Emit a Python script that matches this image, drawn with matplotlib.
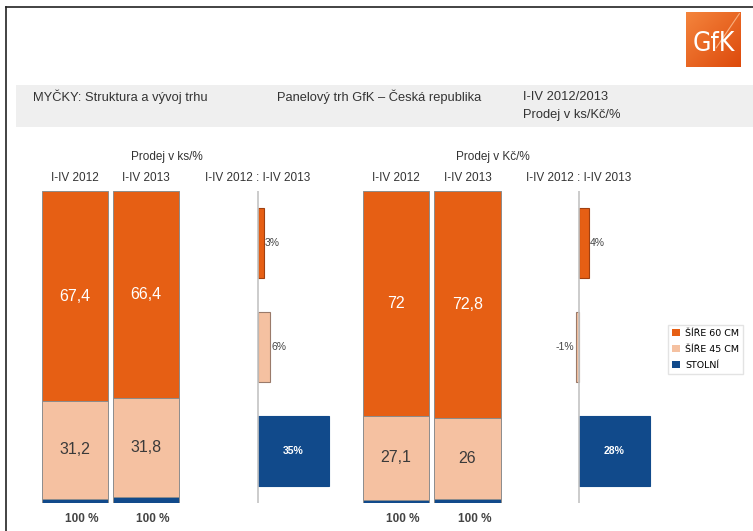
import numpy as np
import matplotlib
matplotlib.use("Agg")
import matplotlib.pyplot as plt
from matplotlib.patches import Patch, Rectangle

# data
periods = ["I-IV 2012", "I-IV 2013"]
segments = ["ŠÍŘE 60 CM", "ŠÍŘE 45 CM", "STOLNÍ"]
colors = ["#E65F14", "#F5C1A1", "#114A8B"]

ks_share = {"ŠÍŘE 60 CM": [67.4, 66.4], "ŠÍŘE 45 CM": [31.2, 31.8], "STOLNÍ": [1.4, 1.8]}
kc_share = {"ŠÍŘE 60 CM": [72.0, 72.8], "ŠÍŘE 45 CM": [27.1, 26.0], "STOLNÍ": [0.9, 1.2]}
ks_growth = [3, 6, 35]
kc_growth = [4, -1, 28]

W, H = 753, 531
plt.rcParams['font.family'] = ['Liberation Sans', 'DejaVu Sans']

fig = plt.figure(figsize=(W / 100, H / 100), dpi=100)


def px_axes(x0, y0, x1, y1):
    return fig.add_axes([x0 / W, 1 - y1 / H, (x1 - x0) / W, (y1 - y0) / H])


def fx(x):
    return x / W


def fy(y):
    return 1 - y / H


# frame, only left and top edges visible
fig.add_artist(plt.Line2D([fx(6.5), fx(6.5)], [0, fy(7)], color="#222222", lw=1.2))
fig.add_artist(plt.Line2D([fx(6.5), 1], [fy(7), fy(7)], color="#222222", lw=1.2))

# grey header band
fig.add_artist(Rectangle((fx(16), fy(127)), 1 - fx(16), (127 - 85) / H,
                         transform=fig.transFigure, facecolor="#EFEFEF", edgecolor="none"))
txt = "#333333"
fig.text(fx(33), fy(97), "MYČKY: Struktura a vývoj trhu", fontsize=9.3, color=txt, va="center")
fig.text(fx(277), fy(97), "Panelový trh GfK – Česká republika", fontsize=9.3, color=txt, va="center")
fig.text(fx(523), fy(97), "I-IV 2012/2013", fontsize=9.3, color=txt, va="center")
fig.text(fx(523), fy(115), "Prodej v ks/Kč/%", fontsize=9.3, color=txt, va="center")

# logo
lax = px_axes(686, 12, 741, 67)
gx, gy = np.meshgrid(np.linspace(0, 1, 50), np.linspace(0, 1, 50))
grad = (gx + gy) / 2
cmap = matplotlib.colors.LinearSegmentedColormap.from_list("g", ["#F4843C", "#DD4A0C"])
lax.imshow(grad, cmap=cmap, extent=(0, 1, 0, 1), origin="upper", aspect="auto")
lax.plot([0.97, 0.55], [0.97, 0.35], color="#F9B080", lw=0.8)
lax.text(0.5, 0.42, "GfK", color="white", fontsize=19, ha="center", va="center",
         family="DejaVu Sans", fontstretch="condensed")
lax.set_xlim(0, 1)
lax.set_ylim(0, 1)
lax.axis("off")


def stacked(ax, share):
    bottom = np.zeros(len(periods))
    x = np.arange(len(periods))
    # smallest segment sits at the bottom
    for seg, c in zip(segments[::-1], colors[::-1]):
        vals = np.array(share[seg])
        ax.bar(x, vals, bottom=bottom, width=0.93, color=c, edgecolor="#8C8C8C", linewidth=0.7)
        if seg != "STOLNÍ":
            for xi, v, b in zip(x, vals, bottom):
                lab = ("%g" % v).replace(".", ",")
                ax.text(xi, b + v / 2, lab, ha="center", va="center", fontsize=11.5,
                        color="white" if seg == "ŠÍŘE 60 CM" else "#3A3A3A")
        bottom += vals
    ax.set_xlim(-0.5, 1.5)
    ax.set_ylim(0, 100)
    ax.axis("off")
    for xi, p, tot in zip(x, periods, bottom):
        ax.annotate(p, (xi, 100), xytext=(0, 5), textcoords="offset points",
                    ha="center", va="bottom", fontsize=8.5, color="#333333")
        ax.annotate("%d %%" % round(tot), (xi, 0), xytext=(5, -7), textcoords="offset points",
                    ha="center", va="top", fontsize=8.5, color="#444444", fontweight="bold")


def growth(ax, vals):
    y = np.arange(len(segments))
    ax.barh(y, vals, height=0.67, color=colors, edgecolor=["#A04010", "#9A7A6A", colors[2]],
            linewidth=0.8)
    ax.axvline(0, color="#C4C4C4", lw=1.2)
    ax.set_ylim(2.5, -0.5)
    ax.axis("off")
    for yi, v in zip(y, vals):
        lab = "%d%%" % v
        if abs(v) > 15:
            ax.text(v / 2, yi, lab, ha="center", va="center", fontsize=7.5, color="white",
                    fontweight="bold")
        elif v >= 0:
            ax.annotate(lab, (v, yi), xytext=(1, 0), textcoords="offset points",
                        ha="left", va="center", fontsize=7.5, color="#444444")
        else:
            ax.annotate(lab, (v, yi), xytext=(-1, 0), textcoords="offset points",
                        ha="right", va="center", fontsize=7.5, color="#444444")
    ax.annotate("I-IV 2012 : I-IV 2013", (0, -0.5), xytext=(0, 5), textcoords="offset points",
                xycoords="data", ha="center", va="bottom", fontsize=8.5, color="#333333",
                annotation_clip=False)


ax1 = px_axes(39.5, 191, 181.5, 503)
stacked(ax1, ks_share)
ax3 = px_axes(360.5, 191, 503, 503)
stacked(ax3, kc_share)
fig.text(fx(167), fy(157), "Prodej v ks/%", fontsize=8.5, color=txt, ha="center", va="center")
fig.text(fx(493), fy(157), "Prodej v Kč/%", fontsize=8.5, color=txt, ha="center", va="center")

g1 = px_axes(230, 191, 350, 503)
g1.set_xlim((230 - 257.5) / 2.03, (350 - 257.5) / 2.03)
growth(g1, ks_growth)
g2 = px_axes(550, 191, 660, 503)
g2.set_xlim((550 - 578.5) / 2.57, (660 - 578.5) / 2.57)
growth(g2, kc_growth)

handles = [Patch(facecolor=c, edgecolor="none") for c in colors]
fig.legend(handles, segments, loc="upper left", bbox_to_anchor=(fx(663), fy(320)),
           frameon=True, fancybox=False, edgecolor="#DDDDDD",
           handlelength=0.8, handleheight=0.8, handletextpad=0.6, labelspacing=0.75,
           borderpad=0.45, prop={"family": "DejaVu Sans", "size": 6.8})

fig.savefig("out.png", dpi=100)
